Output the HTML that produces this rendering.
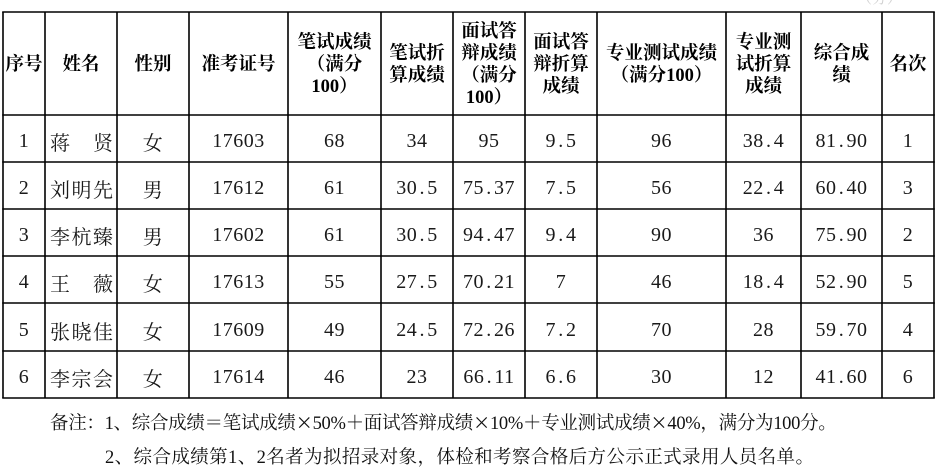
<!DOCTYPE html>
<html><head><meta charset="utf-8">
<style>
html,body{margin:0;padding:0;background:#fff;}
body{width:943px;height:472px;position:relative;overflow:hidden;}
table{position:absolute;left:3px;top:12px;border-collapse:collapse;border-spacing:0;table-layout:fixed;width:931px;}
td{padding:0;text-align:center;vertical-align:middle;overflow:visible;white-space:nowrap;}
tr.h td{height:103px;font-family:"Liberation Serif","Noto Serif CJK SC",serif;font-weight:700;font-size:18.5px;line-height:22px;color:#000;padding-top:3px;box-sizing:border-box;}
tr.d td{font-family:"Liberation Serif","Noto Serif CJK SC",serif;font-size:20px;color:#1a1a1a;padding-top:6px;box-sizing:border-box;letter-spacing:0.5px;}
.p{display:inline-block;width:10px;text-align:center;}
.nm{display:flex;justify-content:space-between;padding:0 4px 0 5px;letter-spacing:0;}
.note{position:absolute;font-family:"Liberation Serif","Noto Serif CJK SC",serif;font-size:18.5px;line-height:22px;color:#111;white-space:nowrap;}
.x{display:inline-block;width:1em;text-align:center;font-family:"Noto Sans CJK SC",sans-serif;font-size:17px;}
svg{position:absolute;left:0;top:0;}
.faint{position:absolute;left:857px;top:-13px;font-family:"Noto Serif CJK SC",serif;font-size:15px;color:#cfcfcf;}
</style></head><body>
<div class="faint">（分）</div>
<table>
<colgroup>
<col style="width:42px"><col style="width:72px"><col style="width:72px"><col style="width:99px"><col style="width:93px"><col style="width:72px"><col style="width:72px"><col style="width:72px"><col style="width:129px"><col style="width:75px"><col style="width:81px"><col style="width:52px">
</colgroup>
<tr class="h">
<td>序号</td><td>姓名</td><td>性别</td><td>准考证号</td>
<td>笔试成绩<br>（满分<br>100）</td>
<td>笔试折<br>算成绩</td>
<td>面试答<br>辩成绩<br>（满分<br>100）</td>
<td>面试答<br>辩折算<br>成绩</td>
<td>专业测试成绩<br>（满分100）</td>
<td>专业测<br>试折算<br>成绩</td>
<td>综合成<br>绩</td>
<td>名次</td>
</tr>
<tr class="d" style="height:47px">
<td>1</td><td><div class="nm"><span>蒋</span><span>贤</span></div></td><td>女</td><td>17603</td><td>68</td><td>34</td><td>95</td><td>9<span class="p">.</span>5</td><td>96</td><td>38<span class="p">.</span>4</td><td>81<span class="p">.</span>90</td><td>1</td>
</tr>
<tr class="d" style="height:47px">
<td>2</td><td><div class="nm"><span>刘</span><span>明</span><span>先</span></div></td><td>男</td><td>17612</td><td>61</td><td>30<span class="p">.</span>5</td><td>75<span class="p">.</span>37</td><td>7<span class="p">.</span>5</td><td>56</td><td>22<span class="p">.</span>4</td><td>60<span class="p">.</span>40</td><td>3</td>
</tr>
<tr class="d" style="height:47px">
<td>3</td><td><div class="nm"><span>李</span><span>杭</span><span>臻</span></div></td><td>男</td><td>17602</td><td>61</td><td>30<span class="p">.</span>5</td><td>94<span class="p">.</span>47</td><td>9<span class="p">.</span>4</td><td>90</td><td>36</td><td>75<span class="p">.</span>90</td><td>2</td>
</tr>
<tr class="d" style="height:47px">
<td>4</td><td><div class="nm"><span>王</span><span>薇</span></div></td><td>女</td><td>17613</td><td>55</td><td>27<span class="p">.</span>5</td><td>70<span class="p">.</span>21</td><td>7</td><td>46</td><td>18<span class="p">.</span>4</td><td>52<span class="p">.</span>90</td><td>5</td>
</tr>
<tr class="d" style="height:48px">
<td>5</td><td><div class="nm"><span>张</span><span>晓</span><span>佳</span></div></td><td>女</td><td>17609</td><td>49</td><td>24<span class="p">.</span>5</td><td>72<span class="p">.</span>26</td><td>7<span class="p">.</span>2</td><td>70</td><td>28</td><td>59<span class="p">.</span>70</td><td>4</td>
</tr>
<tr class="d" style="height:47px">
<td>6</td><td><div class="nm"><span>李</span><span>宗</span><span>会</span></div></td><td>女</td><td>17614</td><td>46</td><td>23</td><td>66<span class="p">.</span>11</td><td>6<span class="p">.</span>6</td><td>30</td><td>12</td><td>41<span class="p">.</span>60</td><td>6</td>
</tr>
</table>
<svg width="943" height="472" viewBox="0 0 943 472">
<g stroke="#000" stroke-width="1.6" fill="none">
<line x1="3" y1="12" x2="3" y2="398"/>
<line x1="45" y1="12" x2="45" y2="398"/>
<line x1="117" y1="12" x2="117" y2="398"/>
<line x1="189" y1="12" x2="189" y2="398"/>
<line x1="288" y1="12" x2="288" y2="398"/>
<line x1="381" y1="12" x2="381" y2="398"/>
<line x1="453" y1="12" x2="453" y2="398"/>
<line x1="525" y1="12" x2="525" y2="398"/>
<line x1="597" y1="12" x2="597" y2="398"/>
<line x1="726" y1="12" x2="726" y2="398"/>
<line x1="801" y1="12" x2="801" y2="398"/>
<line x1="882" y1="12" x2="882" y2="398"/>
<line x1="934" y1="12" x2="934" y2="398"/>
<line x1="2.2" y1="12" x2="934.8" y2="12"/>
<line x1="2.2" y1="115" x2="934.8" y2="115"/>
<line x1="2.2" y1="162" x2="934.8" y2="162"/>
<line x1="2.2" y1="209" x2="934.8" y2="209"/>
<line x1="2.2" y1="256" x2="934.8" y2="256"/>
<line x1="2.2" y1="303" x2="934.8" y2="303"/>
<line x1="2.2" y1="351" x2="934.8" y2="351"/>
<line x1="2.2" y1="398" x2="934.8" y2="398"/>
</g>
</svg>
<div class="note" style="left:50px;top:411px;letter-spacing:-0.3px;">备注：1、综合成绩＝笔试成绩<span class="x">×</span>50%＋面试答辩成绩<span class="x">×</span>10%＋专业测试成绩<span class="x">×</span>40%，满分为100分。</div>
<div class="note" style="left:105px;top:447px;letter-spacing:0.4px;">2、综合成绩第1、2名者为拟招录对象，体检和考察合格后方公示正式录用人员名单。</div>
</body></html>
